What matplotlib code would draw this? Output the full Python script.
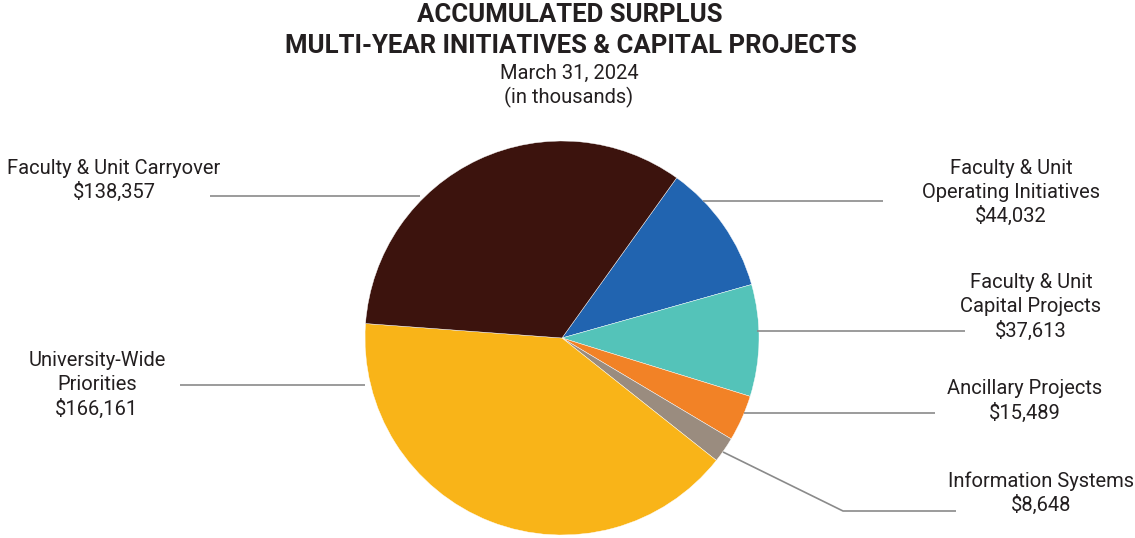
import matplotlib.pyplot as plt

plt.rcParams['font.family'] = ['Roboto', 'DejaVu Sans']

# Accumulated surplus by category (in thousands), clockwise from the top-right
categories = ['Faculty & Unit\nOperating Initiatives', 'Faculty & Unit\nCapital Projects',
              'Ancillary Projects', 'Information Systems',
              'University-Wide\nPriorities', 'Faculty & Unit Carryover']
values = [44032, 37613, 15489, 8648, 166161, 138357]
colors = ['#2164B0', '#54C3B9', '#F28226', '#9A8C7F', '#F9B418', '#3C130D']

W, H = 1135, 538
text_color = '#231F20'
line_color = '#8A8A8A'

fig = plt.figure(figsize=(W / 100, H / 100), dpi=100)
ax = fig.add_axes([0, 0, 1, 1])

def Y(y):
    # pixel rows counted from the top
    return H - y

ax.pie(values, colors=colors, startangle=54.4, counterclock=False,
       center=(562, Y(338)), radius=197,
       wedgeprops=dict(edgecolor='white', linewidth=0.3))
ax.set_xlim(0, W)
ax.set_ylim(0, H)
ax.set_aspect('equal')
ax.axis('off')

# title block
ax.text(570, Y(15), 'ACCUMULATED SURPLUS', ha='center', va='center',
        fontsize=18.5, fontweight='bold', color=text_color)
ax.text(571, Y(46), 'MULTI-YEAR INITIATIVES & CAPITAL PROJECTS', ha='center', va='center',
        fontsize=18.5, fontweight='bold', color=text_color)
ax.text(569, Y(73), 'March 31, 2024', ha='center', va='center', fontsize=14.5, color=text_color)
ax.text(569, Y(97), '(in thousands)', ha='center', va='center', fontsize=14.5, color=text_color)

# label text positions (centre x, top line centre y) and leader line paths
label_pos = [(1011, 168), (1031, 283), (1025, 389), (1041, 481), (97, 361), (114, 168)]
leaders = [
    [(703, 201), (883, 201)],
    [(757, 331), (965, 331)],
    [(744, 413), (935, 413)],
    [(723, 452), (843, 511), (956, 511)],
    [(365, 385), (180, 385)],
    [(420, 196), (210, 196)],
]

for name, val, (lx, ly), path in zip(categories, values, label_pos, leaders):
    xs = [p[0] for p in path]
    ys = [Y(p[1]) for p in path]
    ax.plot(xs, ys, color=line_color, linewidth=1.2, solid_capstyle='butt')
    lines = name.split('\n') + [f'${val:,}']
    for i, s in enumerate(lines):
        ax.text(lx, Y(ly + 24 * i), s, ha='center', va='center',
                fontsize=14.5, color=text_color)

fig.savefig('out.png', dpi=100)
